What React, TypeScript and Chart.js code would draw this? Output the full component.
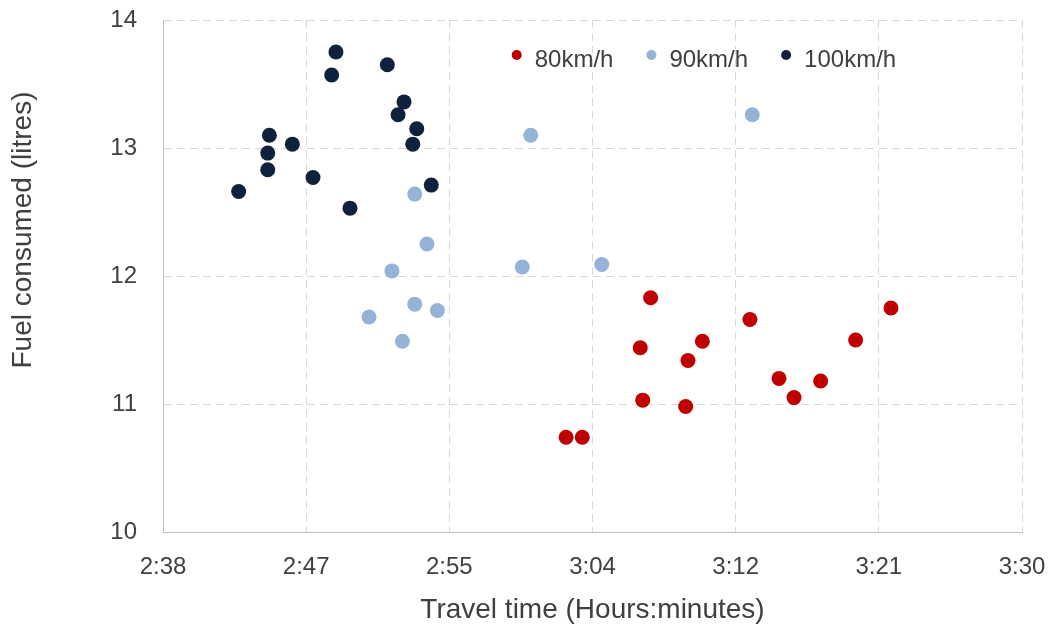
import React, { useEffect, useRef } from 'react';
import { Chart, registerables } from 'chart.js';

Chart.register(...registerables);

// ---- data ----
const SERIES_LABELS = ['80km/h', '90km/h', '100km/h'];
const SERIES_COLORS = ['#C00000', '#95B3D7', '#0F213D'];

// travel time in minutes, fuel in litres
const time80 = [182.40, 183.38, 187.52, 186.89, 187.04, 189.78, 190.65, 189.64, 193.53, 195.29, 196.20, 197.81, 199.93, 202.07];
const fuel80 = [10.74, 10.74, 11.83, 11.44, 11.03, 11.34, 11.49, 10.98, 11.66, 11.20, 11.05, 11.18, 11.50, 11.75];

const time90 = [173.24, 173.98, 171.86, 179.75, 184.56, 173.24, 174.61, 170.47, 172.49, 180.26, 193.67];
const fuel90 = [12.64, 12.25, 12.04, 12.07, 12.09, 11.78, 11.73, 11.68, 11.49, 13.10, 13.26];

const time100 = [162.58, 164.44, 164.34, 164.34, 165.83, 167.08, 168.21, 168.47, 169.32, 171.58, 172.59, 172.23, 173.36, 173.12, 174.24];
const fuel100 = [12.66, 13.10, 12.96, 12.83, 13.03, 12.77, 13.57, 13.75, 12.53, 13.65, 13.36, 13.26, 13.15, 13.03, 12.71];

const X_TICK_LABELS = ['2:38', '2:47', '2:55', '3:04', '3:12', '3:21', '3:30'];
const X_MIN = 158; // 2:38 in minutes
const X_MAX = 210; // 3:30 in minutes
const Y_MIN = 10;
const Y_MAX = 14;
const Y_STEP = 1;

const X_TITLE = 'Travel time (Hours:minutes)';
const Y_TITLE = 'Fuel consumed (litres)';

// ---- styles ----
const FONT = "'Liberation Sans', Arial, sans-serif";
const TEXT_COLOR = '#404040';
const W = 1051;
const H = 627;

const toPoints = (xs: number[], ys: number[]) => xs.map((x, i) => ({ x, y: ys[i] }));

const legendPlugin = {
  id: 'insideLegend',
  afterDraw(chart: any) {
    const ctx = chart.ctx;
    ctx.save();
    ctx.font = `24px ${FONT}`;
    ctx.textAlign = 'left';
    ctx.textBaseline = 'middle';
    let cx = 516.7;
    chart.data.datasets.forEach((ds: any) => {
      ctx.fillStyle = ds.backgroundColor;
      ctx.beginPath();
      ctx.arc(cx, 55, 5, 0, Math.PI * 2);
      ctx.fill();
      ctx.fillStyle = TEXT_COLOR;
      ctx.fillText(ds.label, cx + 18, 60);
      cx += 18 + ctx.measureText(ds.label).width + 38;
    });
    ctx.restore();
  },
};

const yTitlePlugin = {
  id: 'yTitle',
  afterDraw(chart: any) {
    const ctx = chart.ctx;
    ctx.save();
    ctx.font = `28px ${FONT}`;
    ctx.fillStyle = TEXT_COLOR;
    ctx.textAlign = 'center';
    ctx.textBaseline = 'middle';
    ctx.translate(23, 230);
    ctx.rotate(-Math.PI / 2);
    ctx.fillText(Y_TITLE, 0, 0);
    ctx.restore();
  },
};

export default function App() {
  const canvasRef = useRef<HTMLCanvasElement | null>(null);

  useEffect(() => {
    if (!canvasRef.current) return;
    const xStep = (X_MAX - X_MIN) / (X_TICK_LABELS.length - 1);
    const chart = new Chart(canvasRef.current, {
      type: 'scatter',
      data: {
        datasets: [
          { label: SERIES_LABELS[0], data: toPoints(time80, fuel80), backgroundColor: SERIES_COLORS[0], order: 2 },
          { label: SERIES_LABELS[1], data: toPoints(time90, fuel90), backgroundColor: SERIES_COLORS[1], order: 1 },
          { label: SERIES_LABELS[2], data: toPoints(time100, fuel100), backgroundColor: SERIES_COLORS[2], order: 0 },
        ].map((d) => ({ ...d, borderWidth: 0, pointRadius: 7.5, pointHoverRadius: 7.5 })),
      },
      options: {
        responsive: false,
        animation: false,
        devicePixelRatio: 1,
        layout: { autoPadding: false, padding: { left: 0, top: 20, right: 29, bottom: 0 } },
        plugins: {
          legend: { display: false },
          tooltip: { enabled: false },
        },
        scales: {
          x: {
            type: 'linear',
            min: X_MIN,
            max: X_MAX,
            afterBuildTicks: (scale: any) => {
              scale.ticks = X_TICK_LABELS.map((_, i) => ({ value: X_MIN + i * xStep }));
            },
            afterFit: (scale: any) => {
              scale.height = 95;
              scale.paddingLeft = 0;
              scale.paddingRight = 0;
            },
            ticks: {
              autoSkip: false,
              maxRotation: 0,
              padding: 21,
              color: TEXT_COLOR,
              font: { family: FONT, size: 24 },
              callback: (_v: any, i: number) => X_TICK_LABELS[i],
            },
            grid: { color: '#D9D9D9', lineWidth: 1, drawTicks: false },
            border: { display: true, color: '#BFBFBF', width: 1, dash: [8, 5] },
            title: {
              display: true,
              text: X_TITLE,
              color: TEXT_COLOR,
              font: { family: FONT, size: 28 },
              padding: { top: 0, bottom: 0 },
            },
          },
          y: {
            type: 'linear',
            min: Y_MIN,
            max: Y_MAX,
            afterFit: (scale: any) => {
              scale.width = 163;
              scale.paddingTop = 0;
              scale.paddingBottom = 0;
            },
            ticks: {
              stepSize: Y_STEP,
              padding: 26,
              color: TEXT_COLOR,
              font: { family: FONT, size: 24 },
            },
            grid: { color: '#D9D9D9', lineWidth: 1, drawTicks: false },
            border: { display: true, color: '#BFBFBF', width: 1, dash: [8, 5] },
          },
        },
      },
      plugins: [legendPlugin, yTitlePlugin],
    } as any);
    return () => chart.destroy();
  }, []);

  return (
    <div style={{ position: 'fixed', left: 0, top: 0, width: W, height: H, background: '#fff' }}>
      <canvas ref={canvasRef} width={W} height={H} style={{ display: 'block' }} />
    </div>
  );
}
